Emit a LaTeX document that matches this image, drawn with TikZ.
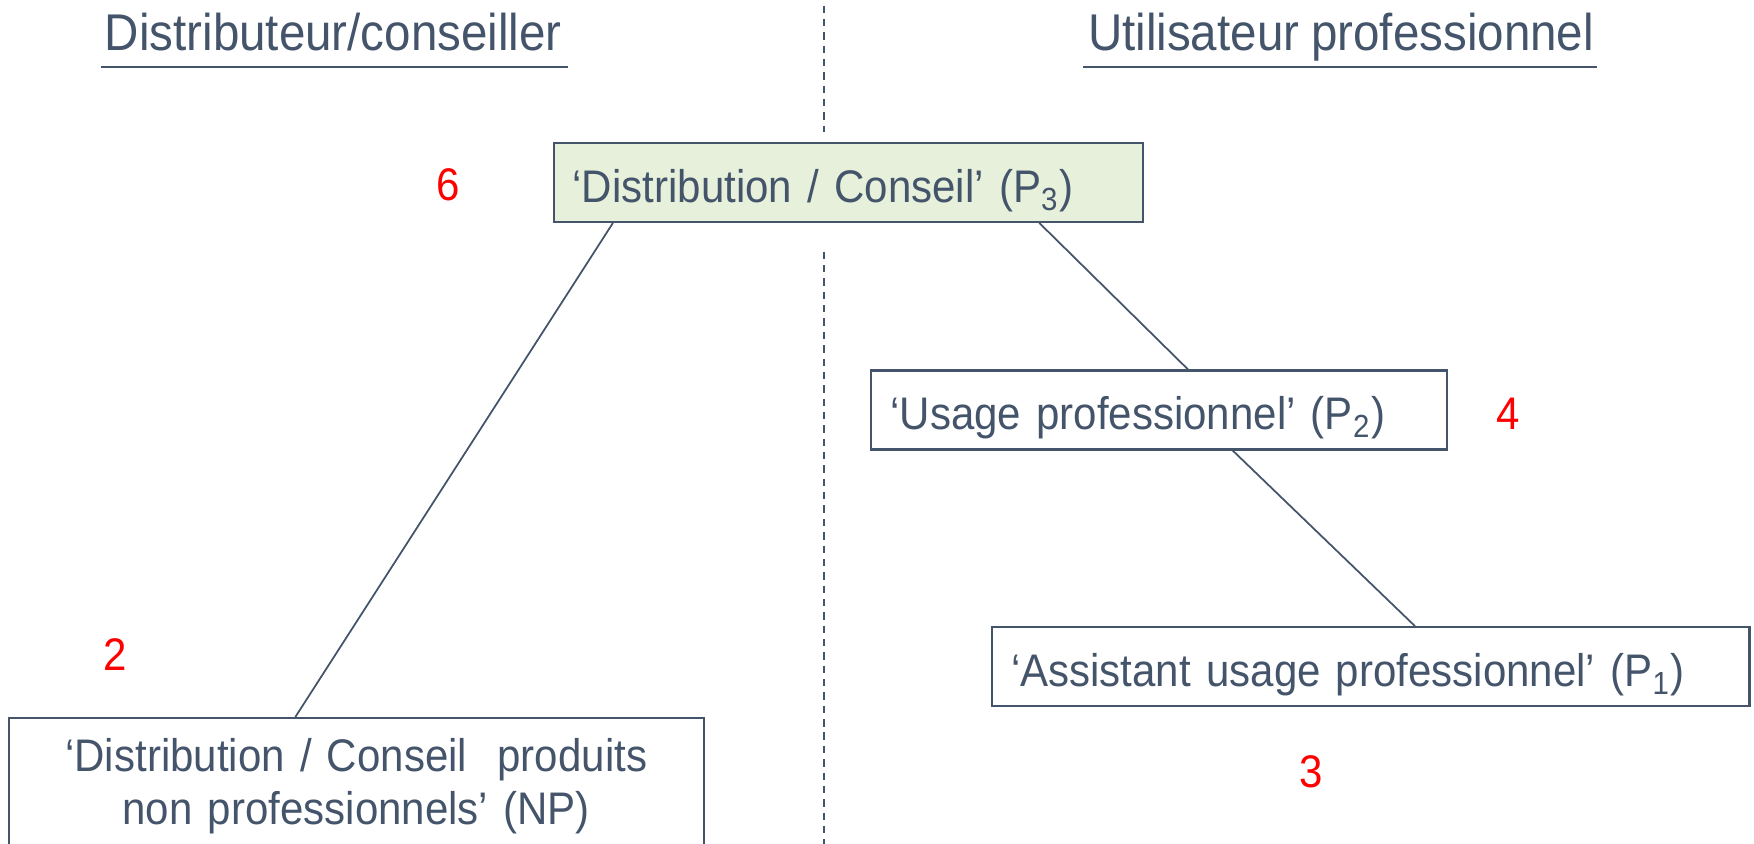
\documentclass[tikz,border=0pt]{standalone}
\usepackage{fontspec}
\setmainfont[FakeStretch=0.92, WordSpace=0.9]{Liberation Sans}
\usepackage{xcolor}
\definecolor{slate}{HTML}{44546A}
\definecolor{palegreen}{HTML}{E6F0DA}
\newcommand\headfont{\fontsize{14.7}{17}\selectfont}
\newcommand\boxfont{\fontsize{13}{15}\selectfont}

\begin{document}
\begin{tikzpicture}[
        every node/.style={text=slate, font=\boxfont},
        stagebox/.style={draw=slate, line width=0.6pt, minimum height=0.79cm,
            inner xsep=0.19cm, anchor=west, align=left, text width=#1,
            text height=0.42cm, text depth=0.02cm},
        num/.style={text=red},
        link/.style={draw=slate, line width=0.5pt},
        divider/.style={draw=slate, line width=0.6pt, dash pattern=on 2.1pt off 1.7pt}]
        \useasboundingbox (0,0) rectangle (17.54,-8.44);
        % column headings
        \node[font=\headfont, anchor=base] (dist) at (3.333,-0.503) {Distributeur/conseiller};
        \node[font=\headfont, anchor=base] (util) at (13.41,-0.503) {Utilisateur professionnel};
        \draw[link, line width=0.7pt] (1.007,-0.671) -- (5.683,-0.671);
        \draw[link, line width=0.7pt] (10.83,-0.671) -- (15.97,-0.671);
        % dashed divider
        \coordinate (d1) at (8.244,-0.056);
        \coordinate (d2) at (8.244,-1.32);
        \coordinate (d3) at (8.244,-2.517);
        \coordinate (d4) at (8.244,-8.44);
        \draw[divider] (d1) -- (d2);
        \draw[divider] (d3) -- (d4);
        % boxes
        \node[stagebox=5.515cm, fill=palegreen] (P3) at (5.526,-1.823) {‘Distribution / Conseil’ (P\textsubscript{3})};
        \node[stagebox=5.38cm] (P2) at (8.703,-4.100) {‘Usage professionnel’ (P\textsubscript{2})};
        \node[stagebox=7.193cm] (P1) at (9.911,-6.667) {‘Assistant usage professionnel’ (P\textsubscript{1})};
        \node[stagebox=6.567cm, anchor=north, align=center, minimum height=1.36cm,
            text height=, text depth=] (NP) at (3.5625,-7.170)
            {‘Distribution / Conseil~ produits\\non professionnels’ (NP)};
        % numbers
        \node[num] (n6) at (4.486,-1.846) {6};
        \node[num] (n4) at (15.08,-4.139) {4};
        \node[num] (n3) at (13.11,-7.718) {3};
        \node[num] (n2) at (1.152,-6.544) {2};
        % links
        \draw[link] ([xshift=0.604cm]P3.south west) -- ([xshift=2.875cm]NP.north west);
        \draw[link] ([xshift=4.866cm]P3.south west) -- ([xshift=3.177cm]P2.north west);
        \draw[link] ([xshift=3.624cm]P2.south west) -- ([xshift=4.239cm]P1.north west);
    \end{tikzpicture}
\end{document}
